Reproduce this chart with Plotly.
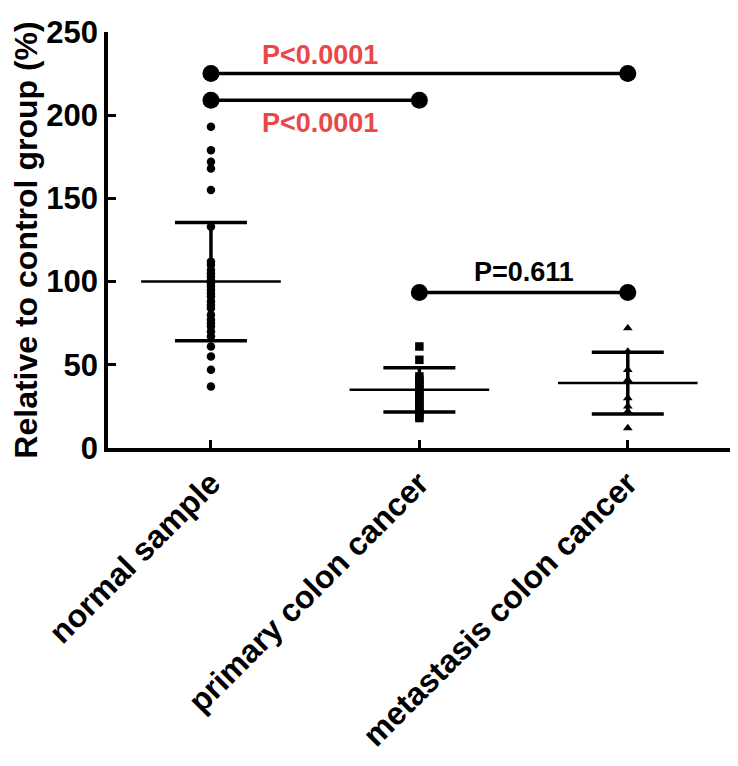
import plotly.graph_objects as go

categories = ["normal sample", "primary colon cancer", "metastasis colon cancer"]

normal_vals = [193, 179, 172, 168, 155, 133, 112, 110, 107, 105, 103, 101, 99, 97,
               95, 93, 91, 88, 86, 84, 80, 77, 75, 73, 70, 67, 61, 55, 47, 37]
primary_vals = [61, 53, 43, 41, 39, 37, 35, 33, 31, 29, 27, 25, 23, 21, 19, 18]
metastasis_vals = [72, 58, 47, 41, 30, 25, 22, 12]

group_means = [100, 35, 39]
group_sd = [35.5, 13.3, 18.5]

sig_pairs = [(0, 2), (0, 1), (1, 2)]
sig_y = [225, 209, 93.5]
sig_labels = ["P<0.0001", "P<0.0001", "P=0.611"]
sig_label_x = [0.523, 0.523, 1.5]
sig_label_y = [236, 195.5, 106]
sig_label_colors = ["#E9484B", "#E9484B", "#000000"]

FONT = "Liberation Sans, Arial, sans-serif"

fig = go.Figure()

groups = [normal_vals, primary_vals, metastasis_vals]
symbols = ["circle", "square", "triangle-up"]
for i, vals in enumerate(groups):
    fig.add_trace(go.Scatter(
        x=[i] * len(vals), y=vals, mode="markers",
        marker=dict(symbol=symbols[i], size=8.5, color="black"),
        showlegend=False, hoverinfo="skip"))

# error bars (SD)
fig.add_trace(go.Scatter(
    x=list(range(len(categories))), y=group_means, mode="markers",
    marker=dict(size=1, color="rgba(0,0,0,0)"),
    error_y=dict(type="data", array=group_sd, visible=True, color="black",
                 thickness=3.5, width=36),
    showlegend=False, hoverinfo="skip"))

# mean lines
half = 0.335
for i, m in enumerate(group_means):
    fig.add_trace(go.Scatter(
        x=[i - half, i + half], y=[m, m], mode="lines",
        line=dict(color="black", width=2.5),
        showlegend=False, hoverinfo="skip"))

# significance bars
for (a, b), yv in zip(sig_pairs, sig_y):
    fig.add_trace(go.Scatter(
        x=[a, b], y=[yv, yv], mode="lines+markers",
        line=dict(color="black", width=3.5),
        marker=dict(symbol="circle", size=17, color="black"),
        showlegend=False, hoverinfo="skip", cliponaxis=False))

for lx, ly, txt, col in zip(sig_label_x, sig_label_y, sig_labels, sig_label_colors):
    fig.add_annotation(x=lx, y=ly, text=f"<b>{txt}</b>", showarrow=False,
                       font=dict(family=FONT, size=27, color=col),
                       xanchor="center", yanchor="middle")

fig.update_layout(
    width=738, height=766,
    margin=dict(l=100, r=14, t=24, b=326),
    plot_bgcolor="white", paper_bgcolor="white",
    font=dict(family=FONT, color="black"),
    xaxis=dict(
        range=[-0.494, 2.5], tickmode="array",
        tickvals=list(range(len(categories))),
        ticktext=[f"<b>{c}</b>" for c in categories],
        tickangle=-45, tickfont=dict(family=FONT, size=32, color="black"),
        ticks="inside", ticklen=8, tickwidth=3, tickcolor="black",
        showline=True, linewidth=3.5, linecolor="black",
        showgrid=False, zeroline=False, automargin=False),
    yaxis=dict(
        range=[0, 250], tickvals=[0, 50, 100, 150, 200, 250],
        ticktext=["<b>0</b>", "<b>50</b>", "<b>100</b>", "<b>150</b>", "<b>200</b>", "<b>250</b>"],
        tickfont=dict(family=FONT, size=31, color="black"),
        ticks="inside", ticklen=8, tickwidth=3, tickcolor="black",
        showline=True, linewidth=3.5, linecolor="black",
        showgrid=False, zeroline=False, automargin=False,
        title=dict(text="<b>Relative to control group (%)</b>",
                   font=dict(family=FONT, size=32, color="black"), standoff=6)),
)

fig.write_html("out.html")
